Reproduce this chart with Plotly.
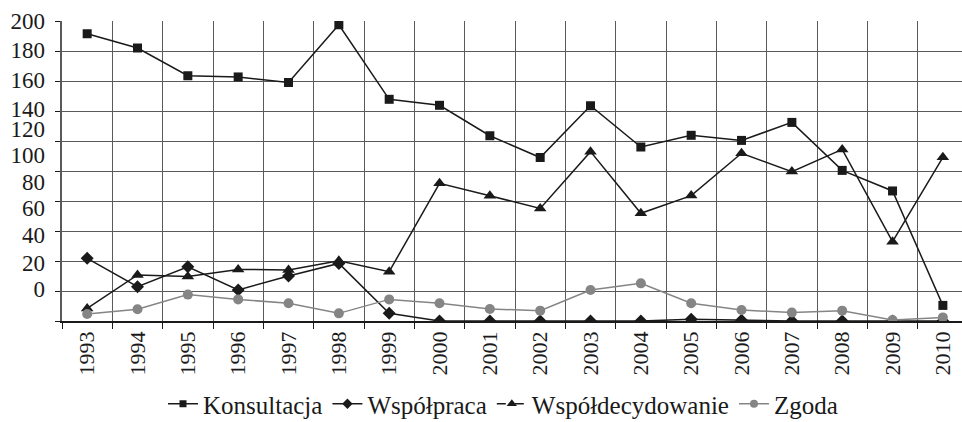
import plotly.graph_objects as go

years = ["1993", "1994", "1995", "1996", "1997", "1998", "1999", "2000", "2001",
         "2002", "2003", "2004", "2005", "2006", "2007", "2008", "2009", "2010"]

konsultacja = [191.5, 182, 163.5, 162.7, 159, 197.5, 147.8, 143.8, 123.5,
               109, 143.5, 116, 123.8, 120.4, 132.4, 100.4, 86.7, 10.4]
wspolpraca = [41.8, 22.9, 36.2, 20.7, 30, 38.4, 5.1, 0, 0,
              0, 0, 0, 1.1, 0.5, 0, 0, 0, 0]
wspoldecydowanie = [8.4, 30.7, 29.6, 34.4, 34, 40.2, 32.9, 91.8, 83.5,
                    75, 112.9, 71.8, 83.6, 111.8, 99.6, 114.4, 52.9, 109.1]
zgoda = [4.7, 7.8, 17.6, 14.4, 11.8, 5.1, 14.4, 11.8, 8,
         6.9, 20.7, 25.1, 11.8, 7.3, 5.6, 6.9, 0.7, 2.4]

y_tick_labels = ["200", "180", "160", "140", "120", "100", "80", "60", "40", "20", "0"]
y_tick_at = [200, 180.7, 160.7, 141.3, 128, 110.7, 92.7, 75.3, 57.3, 38.7, 21.3]

FONT = "'Liberation Serif', 'Times New Roman', serif"
BLACK = "#1a1a1a"
GRAY = "#858585"
GRID = "#5a5a5a"

fig = go.Figure()

series = [
    ("Konsultacja", konsultacja, "square", 9, BLACK),
    ("Współpraca", wspolpraca, "diamond", 10, BLACK),
    ("Współdecydowanie", wspoldecydowanie, "triangle-up", 11, BLACK),
    ("Zgoda", zgoda, "circle", 10, GRAY),
]
legend_dash = {"Współdecydowanie": "dash"}

for name, vals, sym, size, col in series:
    fig.add_trace(go.Scatter(
        x=years, y=vals, mode="lines+markers", name=name, showlegend=False,
        line=dict(color=col, width=1.5),
        marker=dict(symbol=sym, size=size, color=col),
    ))

for name, vals, sym, size, col in series:
    fig.add_trace(go.Scatter(
        x=[None], y=[None], mode="lines+markers", name=name, showlegend=True,
        line=dict(color=col, width=1.5, dash=legend_dash.get(name, "solid")),
        marker=dict(symbol=sym, size=size - 2, color=col),
    ))

fig.add_trace(go.Scatter(x=years, y=[None] * len(years), yaxis="y2",
                         showlegend=False, hoverinfo="skip"))

fig.update_layout(
    width=962, height=422,
    paper_bgcolor="white", plot_bgcolor="white",
    margin=dict(l=62, r=0, t=21, b=101, autoexpand=False),
    font=dict(family=FONT, size=22, color=BLACK),
    xaxis=dict(
        type="category", categoryorder="array", categoryarray=years,
        range=[-0.5, 17.38], tickson="boundaries",
        showgrid=True, gridcolor=GRID, gridwidth=1,
        ticks="outside", ticklen=6, tickcolor=BLACK,
        tickangle=-90, tickfont=dict(family=FONT, size=22, color=BLACK),
        showline=True, linecolor=BLACK, linewidth=1.5, zeroline=False,
    ),
    yaxis=dict(
        range=[0, 200], dtick=20, tick0=0,
        showgrid=True, gridcolor=GRID, gridwidth=1,
        ticks="outside", ticklen=5, tickcolor=BLACK,
        showticklabels=False, showline=True, linecolor=GRID, linewidth=1.5,
        zeroline=False,
    ),
    yaxis2=dict(
        overlaying="y", side="left", range=[0, 200],
        tickmode="array", tickvals=y_tick_at, ticktext=y_tick_labels,
        showgrid=False, zeroline=False, showline=False, ticks="",
        ticklabelstandoff=16,
        tickfont=dict(family=FONT, size=23, color=BLACK),
    ),
    legend=dict(
        orientation="h", x=0.49, xanchor="center", y=-0.2, yanchor="top",
        font=dict(family=FONT, size=25, color=BLACK),
        bgcolor="rgba(0,0,0,0)", itemwidth=30, tracegroupgap=0,
    ),
)

fig.write_html("out.html", config={"displayModeBar": False},
               post_script="document.body.style.margin='0';")
